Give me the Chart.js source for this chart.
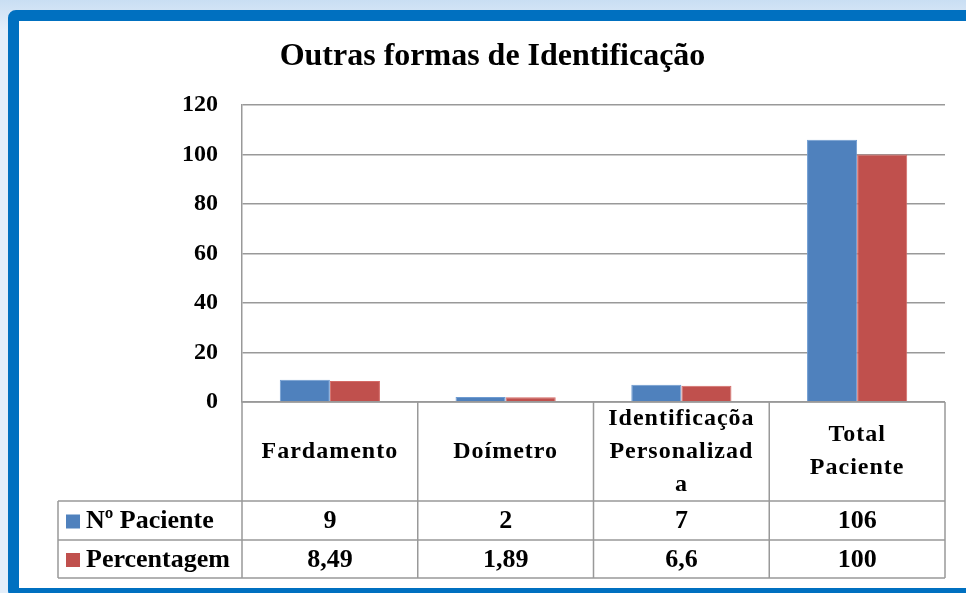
<!DOCTYPE html>
<html>
<head>
<meta charset="utf-8">
<script src="https://cdn.jsdelivr.net/npm/chart.js@4"></script>
<style>
  body { margin: 0; width: 966px; height: 593px; overflow: hidden; background: linear-gradient(#c9def3, #e3eefa 30px, #e3eefa); }
  .frame { position: absolute; left: 8px; top: 10px; width: 990px; height: 567px; border: 11px solid #0070C0; border-radius: 8px; background: #fff; }
  canvas { position: absolute; left: 0; top: 0; }
</style>
</head>
<body>
<div class="frame"></div>
<canvas id="myChart" width="966" height="593"></canvas>
<script>
const categories = [['Fardamento'], ['Doímetro'], ['Identificaçõa', 'Personalizad', 'a'], ['Total', 'Paciente']];
const seriesNames = ['Nº Paciente', 'Percentagem'];
const pacientes = [9, 2, 7, 106];
const percentagem = [8.49, 1.89, 6.6, 100];
const yTicks = [0, 20, 40, 60, 80, 100, 120];
const colors = ['#4F81BD', '#C0504D'];

const serif = '"Liberation Serif", "Times New Roman", serif';

const tablePlugin = {
    id: 'dataTable',
    afterDraw(chart) {
        const c = chart.ctx;
        const x = chart.scales.x;
        const top = chart.chartArea.bottom;
        const rows = [top, top + 99, top + 138, top + 176];
        const legendLeft = 58;
        const colW = (x.right - x.left) / categories.length;
        const edges = categories.map((_, i) => x.getPixelForValue(i) - colW / 2);
        edges.push(x.right);

        c.save();
        c.strokeStyle = '#999';
        c.lineWidth = 1.5;
        c.beginPath();
        // horizontal lines
        c.moveTo(x.left, rows[0]); c.lineTo(x.right, rows[0]);
        for (let r = 1; r < rows.length; r++) {
            c.moveTo(legendLeft, rows[r]); c.lineTo(x.right, rows[r]);
        }
        // vertical lines
        edges.forEach(e => { c.moveTo(e, rows[0]); c.lineTo(e, rows[3]); });
        c.moveTo(legendLeft, rows[1]); c.lineTo(legendLeft, rows[3]);
        c.stroke();

        c.fillStyle = '#000';
        c.textAlign = 'center';
        c.textBaseline = 'middle';
        // category labels
        c.font = 'bold 24px ' + serif;
        c.letterSpacing = '1px';
        const lh = 33;
        categories.forEach((lines, i) => {
            const cx = x.getPixelForValue(i);
            const cy = (rows[0] + rows[1]) / 2;
            lines.forEach((t, j) => {
                c.fillText(t, cx, cy + (j - (lines.length - 1) / 2) * lh);
            });
        });
        c.letterSpacing = '0px';

        // value rows
        const series = [pacientes, percentagem];
        c.font = 'bold 26px ' + serif;
        series.forEach((vals, s) => {
            const cy = (rows[s + 1] + rows[s + 2]) / 2 + 1;
            vals.forEach((v, i) => {
                c.textAlign = 'center';
                c.fillText(String(v).replace('.', ','), x.getPixelForValue(i), cy);
            });
            c.fillStyle = colors[s];
            c.fillRect(legendLeft + 8, cy - 7, 14, 14);
            c.fillStyle = '#000';
            c.textAlign = 'left';
            c.fillText(seriesNames[s], legendLeft + 28, cy);
        });
        c.restore();
    }
};

const ctx = document.getElementById('myChart').getContext('2d');

new Chart(ctx, {
    type: 'bar',
    data: {
        labels: categories,
        datasets: [{
            label: seriesNames[0],
            data: pacientes,
            backgroundColor: colors[0],
            borderColor: '#6E9BD1',
            borderWidth: 1
        }, {
            label: seriesNames[1],
            data: percentagem,
            backgroundColor: colors[1],
            borderColor: '#D46A66',
            borderWidth: 1
        }]
    },
    options: {
        responsive: false,
        animation: false,
        categoryPercentage: 0.57,
        barPercentage: 1.0,
        layout: { padding: { left: 40, right: 21, top: 0, bottom: 191 } },
        plugins: {
            legend: { display: false },
            tooltip: { enabled: false },
            title: {
                display: true,
                text: 'Outras formas de Identificação',
                color: '#000',
                font: { family: serif, size: 32, weight: 'bold' },
                padding: { top: 38, bottom: 28.6 }
            }
        },
        scales: {
            x: { display: false },
            y: {
                min: 0,
                max: 120,
                afterFit: (scale) => { scale.width = 202; },
                afterBuildTicks: (scale) => { scale.ticks = yTicks.map(v => ({ value: v })); },
                grid: { color: '#999', lineWidth: 1.5, drawTicks: false },
                border: { color: '#999', width: 1.5 },
                ticks: {
                    color: '#000',
                    padding: 24,
                    font: { family: serif, size: 24, weight: 'bold' }
                }
            }
        }
    },
    plugins: [tablePlugin]
});
</script>
</body>
</html>
